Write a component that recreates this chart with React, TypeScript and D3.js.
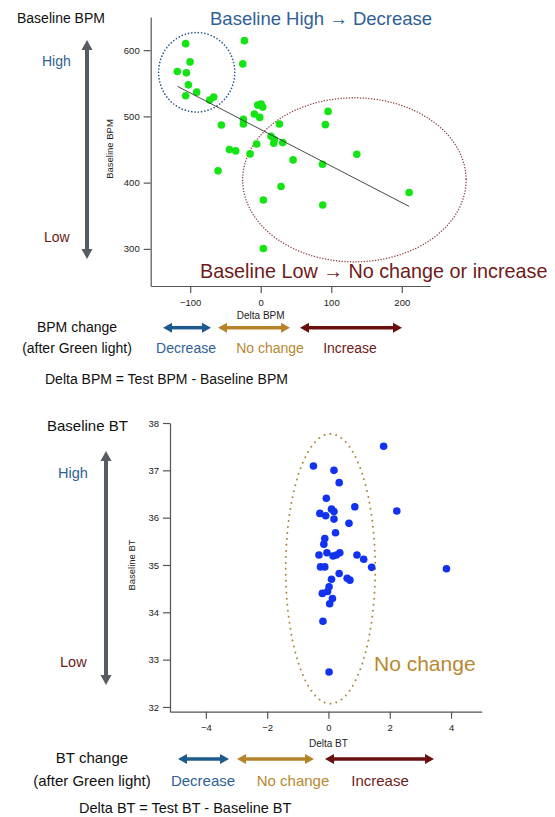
import React, { useEffect, useRef } from 'react';
import * as d3 from 'd3';

// ---- Data: Delta BPM vs Baseline BPM ----
const bpmDelta = [
  -106.4, -23.2, -100.2, -118.2, -105.4, -25.5, -102.6, -90.8, -106.4, -66.7,
  -72.3, -4.3, 0.5, 2.8, -9, -1.4, -24.6, -24.6, -55.8, 26.5,
  95.5, 91.7, -44.4, -35.5, -5.7, -15.1, 14.7, 19.4, 18.4, 31.2,
  45.9, -60.5, 87.5, 136.2, 28.8, 3.8, 87.9, 210.4, 3.8,
];
const bpmBaseline = [
  609.8, 614.3, 582.2, 567.7, 565.7, 579.2, 547.6, 536.6, 531.1, 529.1,
  524.6, 517, 518.5, 514, 503.5, 498.5, 495.5, 488.5, 487, 488.5,
  507.5, 487.5, 449.9, 447.9, 458.4, 443.4, 469.9, 464.8, 459.4, 460.4,
  434.3, 417.8, 427.8, 442.9, 394.2, 373.7, 366.2, 385.2, 300.5,
];

// ---- Data: Delta BT vs Baseline BT ----
const btDelta = [
  1.8, -0.49, 0.18, 0.35, -0.07, 0.86, 2.23, -0.28, -0.09, 0.1,
  0.18, 0.18, 0.67, 0.23, -0.12, -0.15, -0.31, -0.05, 0.15, 0.26,
  0.37, 0.93, 1.15, 1.41, -0.26, -0.12, 3.85, 0.35, 0.61, 0.7,
  0.1, 0.02, -0.2, -0.03, 0.13, 0.04, -0.18, 0.02,
];
const btBaseline = [
  37.51, 37.09, 37.0, 36.74, 36.41, 36.23, 36.14, 36.09, 36.04, 36.18,
  36.13, 35.97, 35.88, 35.68, 35.56, 35.44, 35.21, 35.26, 35.19, 35.21,
  35.26, 35.21, 35.12, 34.95, 34.96, 34.96, 34.92, 34.82, 34.72, 34.68,
  34.7, 34.54, 34.4, 34.44, 34.29, 34.18, 33.81, 32.74,
];

const bpmXTicks = [-100, 0, 100, 200];
const bpmYTicks = [300, 400, 500, 600];
const btXTicks = [-4, -2, 0, 2, 4];
const btYTicks = [32, 33, 34, 35, 36, 37, 38];

const FONT = "'Liberation Sans', Arial, Helvetica, sans-serif";

const C_BLUE_TXT = '#2f6196';
const C_RED_TXT = '#6e1a1a';
const C_GOLD_TXT = '#b8882f';
const C_ARROW_BLUE = '#1e5a8e';
const C_ARROW_GOLD = '#b5842a';
const C_ARROW_RED = '#6a0f0f';
const C_GRAY = '#575c63';

function Axis({ scale, orient, ticks, transform }: any) {
  const ref = useRef<SVGGElement>(null);
  useEffect(() => {
    const axis = (orient === 'left' ? d3.axisLeft(scale) : d3.axisBottom(scale))
      .tickValues(ticks)
      .tickFormat(d3.format('d') as any)
      .tickSize(7)
      .tickPadding(orient === 'left' ? 4 : 6)
      .tickSizeOuter(0);
    const g = d3.select(ref.current as SVGGElement);
    g.call(axis as any);
    g.attr('font-family', FONT).attr('font-size', 9.5);
    g.select('.domain').attr('stroke', '#555').attr('stroke-width', 1.2);
    g.selectAll('.tick line').attr('stroke', '#555').attr('stroke-width', 1.2);
    g.selectAll('.tick text').attr('fill', '#222');
  }, [scale, orient, ticks]);
  return <g ref={ref} transform={transform} />;
}

function HArrow({ x1, x2, y, color, head = 9, hw = 5, sw = 3.5 }: any) {
  return (
    <g fill={color} stroke="none">
      <line x1={x1 + head - 1} x2={x2 - head + 1} y1={y} y2={y} stroke={color} strokeWidth={sw} />
      <path d={`M${x1},${y} L${x1 + head},${y - hw} L${x1 + head},${y + hw} Z`} />
      <path d={`M${x2},${y} L${x2 - head},${y - hw} L${x2 - head},${y + hw} Z`} />
    </g>
  );
}

function VArrow({ x, y1, y2, color, head = 10, hw = 5.5, sw = 4 }: any) {
  return (
    <g fill={color} stroke="none">
      <line x1={x} x2={x} y1={y1 + head - 1} y2={y2 - head + 1} stroke={color} strokeWidth={sw} />
      <path d={`M${x},${y1} L${x - hw},${y1 + head} L${x + hw},${y1 + head} Z`} />
      <path d={`M${x},${y2} L${x - hw},${y2 - head} L${x + hw},${y2 - head} Z`} />
    </g>
  );
}

export default function App() {
  // top chart scales
  const tx = d3.scaleLinear().domain([-156, 240]).range([150.7, 430]);
  const ty = d3.scaleLinear().domain([244, 650]).range([286, 17]);
  // bottom chart scales
  const bx = d3.scaleLinear().domain([-5.17, 5]).range([170, 481.7]);
  const by = d3.scaleLinear().domain([31.9, 38]).range([711.7, 423]);

  // regression
  const n = bpmDelta.length;
  const mx = d3.mean(bpmDelta) as number;
  const my = d3.mean(bpmBaseline) as number;
  let sxy = 0, sxx = 0;
  for (let i = 0; i < n; i++) {
    sxy += (bpmDelta[i] - mx) * (bpmBaseline[i] - my);
    sxx += (bpmDelta[i] - mx) ** 2;
  }
  const slope = sxy / sxx;
  const icpt = my - slope * mx;
  const [xmin, xmax] = d3.extent(bpmDelta) as [number, number];
  const line = d3.line<number>().x((d) => tx(d)).y((d) => ty(icpt + slope * d));

  // annotation ellipses (data-space centres/radii)
  const ell = (sx: any, sy: any, cx: number, cy: number, rx: number, ry: number) => ({
    cx: sx(cx), cy: sy(cy), rx: Math.abs(sx(cx + rx) - sx(cx)), ry: Math.abs(sy(cy + ry) - sy(cy)),
  });
  const e1 = ell(tx, ty, -90.8, 566.6, 54, 60);
  const e2 = ell(tx, ty, 132.8, 404.2, 158.4, 123.8);
  const e3 = ell(bx, by, 0.065, 34.92, 1.46, 2.85);

  return (
    <svg width={555} height={817} style={{ position: 'absolute', left: 0, top: 0, background: '#fff' }} fontFamily={FONT}>
      {/* ===== TOP CHART ===== */}
      <text x={17} y={23} fontSize={14} fill="#111">Baseline BPM</text>
      <text x={210} y={25} fontSize={18.5} fill={C_BLUE_TXT}>Baseline High → Decrease</text>
      <text x={42} y={66} fontSize={14} fill={C_BLUE_TXT}>High</text>
      <text x={44} y={242} fontSize={14} fill={C_RED_TXT}>Low</text>
      <VArrow x={87} y1={40} y2={259} color={C_GRAY} />
      <text transform={`translate(113,149) rotate(-90)`} textAnchor="middle" fontSize={9.5} fill="#222">Baseline BPM</text>

      <Axis scale={ty} orient="left" ticks={bpmYTicks} transform={`translate(150.7,0)`} />
      <Axis scale={tx} orient="bottom" ticks={bpmXTicks} transform={`translate(0,286)`} />
      <text x={tx(0)} y={319} textAnchor="middle" fontSize={10} fill="#222">Delta BPM</text>

      <ellipse cx={e1.cx} cy={e1.cy} rx={e1.rx} ry={e1.ry} fill="none" stroke="#2f5b8a" strokeWidth={1.7} strokeDasharray="0 3.3" strokeLinecap="round" />
      <ellipse cx={e2.cx} cy={e2.cy} rx={e2.rx} ry={e2.ry} fill="none" stroke="#8a3d3d" strokeWidth={1.5} strokeDasharray="0 2.8" strokeLinecap="round" />

      {bpmDelta.map((d, i) => (
        <circle key={i} cx={tx(d)} cy={ty(bpmBaseline[i])} r={3.8} fill="#14e414" />
      ))}
      <path d={line([xmin, xmax]) as string} stroke="#333" strokeWidth={0.9} fill="none" />

      <text x={200} y={278} fontSize={19.8} fill={C_RED_TXT}>Baseline Low → No change or increase</text>

      <text x={77} y={332} textAnchor="middle" fontSize={14} fill="#111">BPM change</text>
      <text x={77} y={353} textAnchor="middle" fontSize={14} fill="#111">(after Green light)</text>
      <HArrow x1={163} x2={211} y={327.7} color={C_ARROW_BLUE} />
      <HArrow x1={218} x2={290} y={327.7} color={C_ARROW_GOLD} />
      <HArrow x1={300} x2={402} y={327.7} color={C_ARROW_RED} />
      <text x={186} y={353} textAnchor="middle" fontSize={14} fill={C_BLUE_TXT}>Decrease</text>
      <text x={270} y={353} textAnchor="middle" fontSize={14} fill={C_GOLD_TXT}>No change</text>
      <text x={350} y={353} textAnchor="middle" fontSize={14} fill={C_RED_TXT}>Increase</text>
      <text x={45} y={384} fontSize={14} fill="#111">Delta BPM = Test BPM - Baseline BPM</text>

      {/* ===== BOTTOM CHART ===== */}
      <text x={47} y={431} fontSize={15} fill="#111">Baseline BT</text>
      <text x={58} y={478} fontSize={14.5} fill={C_BLUE_TXT}>High</text>
      <text x={60} y={667} fontSize={14.5} fill={C_RED_TXT}>Low</text>
      <VArrow x={106} y1={451} y2={685} color={C_GRAY} />
      <text transform={`translate(135,565) rotate(-90)`} textAnchor="middle" fontSize={9.5} fill="#222">Baseline BT</text>

      <Axis scale={by} orient="left" ticks={btYTicks} transform={`translate(170,0)`} />
      <Axis scale={bx} orient="bottom" ticks={btXTicks} transform={`translate(0,711.7)`} />
      <text x={bx(0)} y={747} textAnchor="middle" fontSize={10} fill="#222">Delta BT</text>

      <ellipse cx={e3.cx} cy={e3.cy} rx={e3.rx} ry={e3.ry} fill="none" stroke="#a8873d" strokeWidth={2} strokeDasharray="0 6" strokeLinecap="round" />

      {btDelta.map((d, i) => (
        <circle key={i} cx={bx(d)} cy={by(btBaseline[i])} r={3.8} fill="#1133f0" />
      ))}

      <text x={374} y={671} fontSize={21} fill={C_GOLD_TXT}>No change</text>

      <text x={92} y={763} textAnchor="middle" fontSize={15} fill="#111">BT change</text>
      <text x={92} y={786} textAnchor="middle" fontSize={15} fill="#111">(after Green light)</text>
      <HArrow x1={178} x2={229} y={759} color={C_ARROW_BLUE} />
      <HArrow x1={237} x2={314} y={759} color={C_ARROW_GOLD} />
      <HArrow x1={325} x2={434} y={759} color={C_ARROW_RED} />
      <text x={203} y={786} textAnchor="middle" fontSize={15} fill={C_BLUE_TXT}>Decrease</text>
      <text x={293} y={786} textAnchor="middle" fontSize={15} fill={C_GOLD_TXT}>No change</text>
      <text x={380} y={786} textAnchor="middle" fontSize={15} fill={C_RED_TXT}>Increase</text>
      <text x={79} y={813} fontSize={14.5} fill="#111">Delta BT = Test BT - Baseline BT</text>
    </svg>
  );
}
